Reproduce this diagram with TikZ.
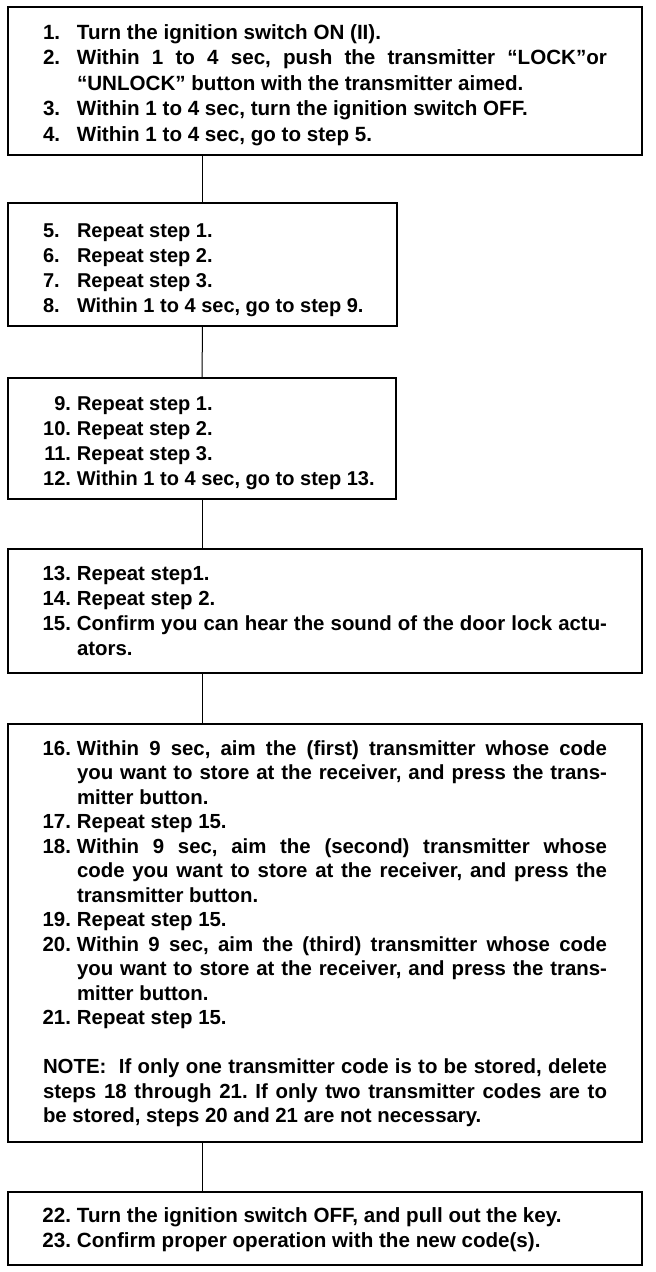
\documentclass[tikz,border=0pt]{standalone}
\usepackage{fontspec}
\setmainfont{Liberation Sans}
\usetikzlibrary{positioning}
\tolerance=10000
\hbadness=10000
\hfuzz=60pt
\frenchspacing
% numbered lines: number left or right in its column
\newcommand{\stpl}[2]{\hangindent=34pt\hangafter=1\noindent\strut\makebox[34pt][l]{#1.}#2\strut\par}
\newcommand{\stpr}[2]{\hangindent=34pt\hangafter=1\noindent\strut\makebox[34pt][l]{\makebox[28pt][r]{#1.}}#2\strut\par}
% taller first line pushes the text down in its box
\newcommand{\topgap}[1]{\rule{0pt}{#1}}
\tikzset{
  box/.style={rectangle,draw,line width=1.6pt,outer sep=0pt,anchor=north west,inner xsep=35pt,inner ysep=0pt,align=justify,font=\fontsize{20}{25}\selectfont\bfseries},
  ln/.style={line width=1pt},
}
\begin{document}
\begin{tikzpicture}[x=1pt,y=1pt]
  \useasboundingbox (0,0) rectangle (656,-1272);
  \node[box,text width=564pt,minimum height=148pt,font=\fontsize{20.6}{25.5}\selectfont\bfseries] (b1) at (8,-7) {
    \stpl{1}{\topgap{26pt}Turn the ignition switch ON (II).}
    \stpl{2}{Within 1 to 4 sec, push the transmitter “LOCK”or\linebreak “UNLOCK” button with the transmitter aimed.}
    \stpl{3}{Within 1 to 4 sec, turn the ignition switch OFF.}
    \stpl{4}{Within 1 to 4 sec, go to step 5.}};
  \node[box,text width=319pt,minimum height=123pt,below=48pt of b1.south west,anchor=north west] (b2) {
    \stpl{5}{\topgap{27.5pt}Repeat step 1.}
    \stpl{6}{Repeat step 2.}
    \stpl{7}{Repeat step 3.}
    \stpl{8}{\mbox{Within 1 to 4 sec, go to step 9.}}};
  \node[box,text width=318pt,minimum height=121pt,below=52pt of b2.south west,anchor=north west] (b3) {
    \stpr{9}{\topgap{25.5pt}Repeat step 1.}
    \stpr{10}{Repeat step 2.}
    \stpr{11}{Repeat step 3.}
    \stpr{12}{\mbox{Within 1 to 4 sec, go to step 13.}}};
  \node[box,text width=564pt,minimum height=124pt,below=50pt of b3.south west,anchor=north west,font=\fontsize{20.4}{25}\selectfont\bfseries] (b4) {
    \stpr{13}{\topgap{21.5pt}Repeat step1.}
    \stpr{14}{Repeat step 2.}
    \stpr{15}{Confirm you can hear the sound of the door lock actu-\linebreak ators.}};
  \node[box,text width=564pt,minimum height=418pt,below=51pt of b4.south west,anchor=north west,font=\fontsize{20.4}{24.5}\selectfont\bfseries] (b5) {
    \stpr{16}{\topgap{19.2pt}Within 9 sec, aim the (first) transmitter whose code\linebreak you want to store at the receiver, and press the trans-\linebreak mitter button.}
    \stpr{17}{Repeat step 15.}
    \stpr{18}{Within 9 sec, aim the (second) transmitter whose\linebreak code you want to store at the receiver, and press the\linebreak transmitter button.}
    \stpr{19}{Repeat step 15.}
    \stpr{20}{Within 9 sec, aim the (third) transmitter whose code\linebreak you want to store at the receiver, and press the trans-\linebreak mitter button.}
    \stpr{21}{Repeat step 15.}
    \noindent\strut\par
    \noindent\strut NOTE:\ \ If only one transmitter code is to be stored, delete\linebreak steps 18 through 21. If only two transmitter codes are to\linebreak be stored, steps 20 and 21 are not necessary.\strut\par};
  \node[box,text width=564pt,minimum height=73pt,below=50pt of b5.south west,anchor=north west,font=\fontsize{20.6}{25}\selectfont\bfseries] (b6) {
    \stpr{22}{\topgap{19.5pt}Turn the ignition switch OFF, and pull out the key.}
    \stpr{23}{Confirm proper operation with the new code(s).}};
  \draw[ln] (b1.south -| b2.north) -- (b2.north);
  \draw[ln] (b2.south) -- (b3.north);
  \draw[ln] (b3.south) -- (b3.south |- b4.north);
  \draw[ln] (b4.south -| b3.south) -- (b5.north -| b3.south);
  \draw[ln] (b5.south -| b3.south) -- (b6.north -| b3.south);
\end{tikzpicture}
\end{document}
